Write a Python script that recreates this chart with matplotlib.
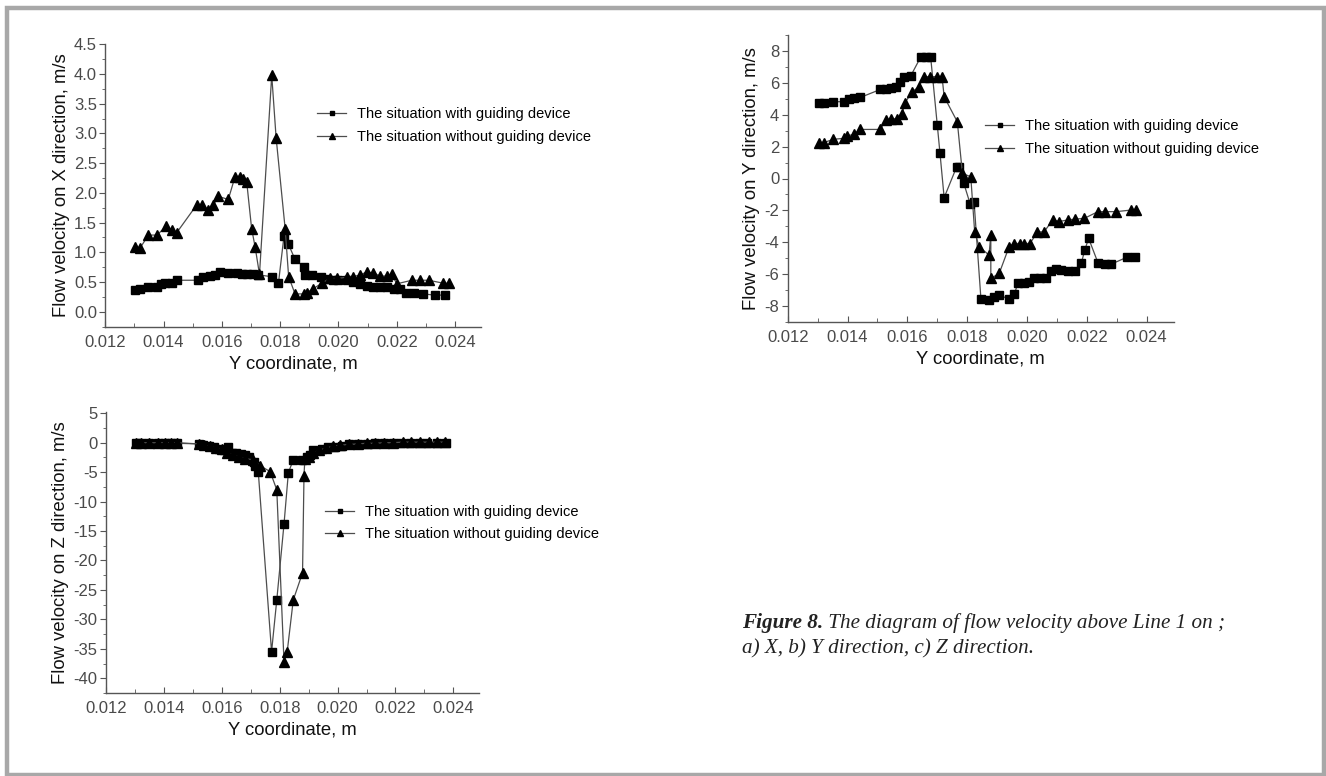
import matplotlib
matplotlib.use("Agg")
import matplotlib.pyplot as plt
from matplotlib.patches import Rectangle
from matplotlib.ticker import MultipleLocator, FormatStrFormatter

plt.rcParams['font.family'] = ['Liberation Sans', 'DejaVu Sans']

# Flow velocity along Line 1 (Y coordinate in m, velocity in m/s)
# a) X direction
x_vx_with = [0.01302, 0.01320, 0.01348, 0.01376, 0.01390, 0.01405, 0.01428, 0.01445, 0.01519, 0.01536,
             0.01559, 0.01576, 0.01594, 0.01622, 0.01651, 0.01670, 0.01685, 0.01708, 0.01725, 0.01771,
             0.01794, 0.01813, 0.01828, 0.01851, 0.01880, 0.01885, 0.01908, 0.01940, 0.01960, 0.01980,
             0.02000, 0.02028, 0.02050, 0.02075, 0.02097, 0.02120, 0.02143, 0.02166, 0.02190, 0.02210,
             0.02232, 0.02260, 0.02290, 0.02330, 0.02365]
vx_with = [0.37, 0.38, 0.42, 0.42, 0.46, 0.48, 0.49, 0.53, 0.53, 0.59,
           0.60, 0.62, 0.67, 0.65, 0.65, 0.64, 0.63, 0.63, 0.62, 0.59,
           0.48, 1.27, 1.14, 0.88, 0.76, 0.62, 0.62, 0.58, 0.55, 0.54,
           0.53, 0.53, 0.50, 0.46, 0.43, 0.42, 0.42, 0.41, 0.39, 0.39,
           0.32, 0.31, 0.30, 0.28, 0.28]
x_vx_without = [0.01302, 0.01319, 0.01348, 0.01378, 0.01408, 0.01428, 0.01445, 0.01514, 0.01531, 0.01554,
                0.01571, 0.01588, 0.01622, 0.01645, 0.01662, 0.01674, 0.01685, 0.01702, 0.01714, 0.01729,
                0.01771, 0.01786, 0.01817, 0.01829, 0.01851, 0.01880, 0.01891, 0.01914, 0.01943, 0.01970,
                0.01994, 0.02028, 0.02050, 0.02075, 0.02097, 0.02120, 0.02143, 0.02166, 0.02183, 0.02200,
                0.02252, 0.02280, 0.02309, 0.02360, 0.02378]
vx_without = [1.09, 1.07, 1.29, 1.29, 1.44, 1.38, 1.33, 1.80, 1.80, 1.71,
              1.80, 1.94, 1.89, 2.27, 2.27, 2.23, 2.19, 1.40, 1.09, 0.63,
              3.98, 2.93, 1.40, 0.59, 0.30, 0.30, 0.32, 0.39, 0.48, 0.56,
              0.56, 0.58, 0.59, 0.62, 0.67, 0.65, 0.60, 0.60, 0.63, 0.47,
              0.53, 0.53, 0.53, 0.48, 0.48]

# b) Y direction
x_vy_with = [0.01303, 0.01320, 0.01353, 0.01387, 0.01404, 0.01421, 0.01443, 0.01510, 0.01527, 0.01544,
             0.01561, 0.01577, 0.01588, 0.01611, 0.01644, 0.01661, 0.01678, 0.01700, 0.01709, 0.01723,
             0.01765, 0.01773, 0.01788, 0.01810, 0.01823, 0.01846, 0.01874, 0.01891, 0.01907, 0.01941,
             0.01958, 0.01969, 0.01991, 0.02008, 0.02025, 0.02042, 0.02064, 0.02081, 0.02098, 0.02114,
             0.02137, 0.02159, 0.02182, 0.02193, 0.02206, 0.02238, 0.02260, 0.02282, 0.02333, 0.02361]
vy_with = [4.72, 4.72, 4.82, 4.82, 4.97, 5.03, 5.09, 5.59, 5.59, 5.66,
           5.76, 6.08, 6.39, 6.43, 7.60, 7.60, 7.60, 3.36, 1.60, -1.20,
           0.74, 0.74, -0.26, -1.60, -1.46, -7.58, -7.63, -7.42, -7.31, -7.58,
           -7.25, -6.58, -6.58, -6.48, -6.27, -6.27, -6.27, -5.79, -5.70, -5.74,
           -5.79, -5.79, -5.28, -4.49, -3.76, -5.33, -5.37, -5.37, -4.95, -4.95]
x_vy_without = [0.01303, 0.01320, 0.01353, 0.01387, 0.01398, 0.01421, 0.01443, 0.01510, 0.01527, 0.01544,
                0.01566, 0.01583, 0.01591, 0.01616, 0.01639, 0.01655, 0.01677, 0.01700, 0.01716, 0.01723,
                0.01767, 0.01784, 0.01812, 0.01825, 0.01840, 0.01873, 0.01879, 0.01879, 0.01907, 0.01940,
                0.01957, 0.01975, 0.01990, 0.02010, 0.02035, 0.02057, 0.02086, 0.02108, 0.02136, 0.02160,
                0.02192, 0.02237, 0.02260, 0.02298, 0.02348, 0.02365]
vy_without = [2.20, 2.25, 2.46, 2.52, 2.67, 2.77, 3.08, 3.08, 3.67, 3.75,
              3.75, 4.04, 4.72, 5.44, 5.76, 6.39, 6.39, 6.39, 6.39, 5.13,
              3.56, 0.32, 0.11, -3.35, -4.29, -4.80, -3.55, -6.27, -5.96, -4.29,
              -4.08, -4.08, -4.08, -4.08, -3.35, -3.35, -2.60, -2.70, -2.60, -2.55,
              -2.50, -2.08, -2.08, -2.08, -1.98, -1.98]

# c) Z direction
x_vz_with = [0.01302, 0.01320, 0.01350, 0.01380, 0.01405, 0.01425, 0.01445, 0.01520, 0.01535, 0.01555,
             0.01572, 0.01590, 0.01606, 0.01622, 0.01635, 0.01648, 0.01665, 0.01680, 0.01695, 0.01710,
             0.01716, 0.01726, 0.01772, 0.01790, 0.01815, 0.01830, 0.01847, 0.01876, 0.01893, 0.01905,
             0.01915, 0.01945, 0.01968, 0.01990, 0.02015, 0.02040, 0.02070, 0.02100, 0.02130, 0.02160,
             0.02190, 0.02220, 0.02250, 0.02280, 0.02310, 0.02345, 0.02375]
vz_with = [0.0, 0.0, 0.0, 0.0, 0.0, 0.0, -0.1, -0.2, -0.4, -0.5,
           -0.8, -1.1, -1.3, -0.7, -1.8, -1.7, -2.0, -2.1, -2.4, -3.2,
           -4.0, -4.9, -35.5, -26.7, -13.8, -5.1, -2.9, -2.9, -2.5, -2.1,
           -1.3, -1.1, -0.8, -0.7, -0.5, -0.3, -0.3, -0.2, -0.1, -0.1,
           0.0, 0.0, 0.0, 0.0, 0.0, 0.0, 0.0]
x_vz_without = [0.01302, 0.01320, 0.01350, 0.01380, 0.01405, 0.01425, 0.01445, 0.01520, 0.01540, 0.01560,
                0.01580, 0.01600, 0.01617, 0.01640, 0.01660, 0.01680, 0.01709, 0.01732, 0.01767, 0.01790,
                0.01815, 0.01826, 0.01847, 0.01879, 0.01884, 0.01887, 0.01900, 0.01915, 0.01935, 0.01960,
                0.01985, 0.02010, 0.02040, 0.02070, 0.02100, 0.02130, 0.02160, 0.02190, 0.02225, 0.02255,
                0.02285, 0.02315, 0.02345, 0.02370]
vz_without = [0.0, 0.0, 0.0, 0.0, 0.0, 0.0, 0.0, -0.2, -0.4, -0.6,
              -0.9, -1.1, -1.7, -2.1, -2.4, -2.7, -2.9, -3.9, -4.9, -8.0,
              -37.2, -35.5, -26.7, -22.1, -5.6, -2.8, -2.4, -1.8, -1.3, -0.9,
              -0.6, -0.4, -0.3, -0.2, -0.1, -0.1, 0.0, 0.0, 0.1, 0.1,
              0.1, 0.1, 0.1, 0.1]

label_with = 'The situation with guiding device'
label_without = 'The situation without guiding device'

W, H = 1326, 776
fig = plt.figure(figsize=(W / 100, H / 100), dpi=100)


def px_rect(x0, y0, x1, y1):
    # pixel box (top-left origin) -> figure fraction rect
    return [x0 / W, 1 - y1 / H, (x1 - x0) / W, (y1 - y0) / H]


def style_axes(ax, ylim, ymaj, ymin, yfmt, ylabel):
    ax.set_xlim(0.012, 0.0249)
    ax.set_ylim(*ylim)
    ax.spines['top'].set_visible(False)
    ax.spines['right'].set_visible(False)
    for s in ('left', 'bottom'):
        ax.spines[s].set_color('#555555')
        ax.spines[s].set_linewidth(1.0)
    ax.xaxis.set_major_locator(MultipleLocator(0.002))
    ax.xaxis.set_minor_locator(MultipleLocator(0.001))
    ax.xaxis.set_major_formatter(FormatStrFormatter('%.3f'))
    ax.yaxis.set_major_locator(MultipleLocator(ymaj))
    ax.yaxis.set_minor_locator(MultipleLocator(ymin))
    ax.yaxis.set_major_formatter(FormatStrFormatter(yfmt))
    ax.tick_params(axis='x', which='both', direction='in', color='#555555', pad=6,
                   labelsize=12, labelcolor='#4a4a4a')
    ax.tick_params(axis='x', which='major', length=4)
    ax.tick_params(axis='x', which='minor', length=3)
    ax.tick_params(axis='y', which='both', direction='out', color='#555555', pad=2,
                   labelsize=12, labelcolor='#4a4a4a')
    ax.tick_params(axis='y', which='major', length=4)
    ax.tick_params(axis='y', which='minor', length=2.5)
    ax.set_xlabel('Y coordinate, m', fontsize=13.3, color='#111111', labelpad=4)
    ax.set_ylabel(ylabel, fontsize=13.3, color='#111111', labelpad=3)
    ax.patch.set_alpha(0)


def draw_series(ax, xw, yw, xo, yo):
    ax.plot(xw, yw, color='#4d4d4d', lw=0.9, marker='s', ms=5.5, mfc='black', mec='black',
            label=label_with)
    ax.plot(xo, yo, color='#4d4d4d', lw=0.9, marker='^', ms=6.5, mfc='black', mec='black',
            label=label_without)


def add_legend(ax, x_px, y_px):
    ax.legend(loc='center left', bbox_to_anchor=(x_px / W, 1 - y_px / H),
              bbox_transform=fig.transFigure, frameon=False, fontsize=10.5,
              handlelength=2.0, handletextpad=0.75, labelspacing=0.6,
              borderpad=0, borderaxespad=0, markerscale=0.65)


# a) X direction
ax1 = fig.add_axes(px_rect(105.3, 44.3, 481.3, 326.6))
draw_series(ax1, x_vx_with, vx_with, x_vx_without, vx_without)
style_axes(ax1, (-0.25, 4.5), 0.5, 0.25, '%.1f', 'Flow velocity on X direction, m/s')
add_legend(ax1, 317, 125.5)

# b) Y direction
ax2 = fig.add_axes(px_rect(787.7, 35.1, 1173.6, 321.9))
draw_series(ax2, x_vy_with, vy_with, x_vy_without, vy_without)
style_axes(ax2, (-9, 9), 2, 1, '%d', 'Flow velocity on Y direction, m/s')
add_legend(ax2, 985, 137.5)

# c) Z direction
ax3 = fig.add_axes(px_rect(106.0, 411.5, 479.4, 693.0))
draw_series(ax3, x_vz_with, vz_with, x_vz_without, vz_without)
style_axes(ax3, (-42.5, 5.3), 5, 2.5, '%d', 'Flow velocity on Z direction, m/s')
add_legend(ax3, 325, 523)

# caption
cap_x = 742 / W
t1 = fig.text(cap_x, 1 - 628 / H, 'Figure 8.', fontsize=15.2, family=['Liberation Serif'],
              style='italic', weight='bold', color='#222222', va='baseline')
fig.canvas.draw()
bb = t1.get_window_extent()
fig.text(bb.x1 / W, 1 - 628 / H, ' The diagram of flow velocity above Line 1 on ;', fontsize=15.2,
         family=['Liberation Serif'], style='italic', color='#222222', va='baseline')
fig.text(cap_x, 1 - 653 / H, 'a) X, b) Y direction, c) Z direction.', fontsize=15.2,
         family=['Liberation Serif'], style='italic', color='#222222', va='baseline')

# gray frame around the figure
fig.patches.append(Rectangle((7 / W, 1.5 / H), 1317 / W, 767 / H, transform=fig.transFigure,
                             fill=False, edgecolor='#a8a8a8', linewidth=3.2))

fig.savefig('out.png', dpi=100)
